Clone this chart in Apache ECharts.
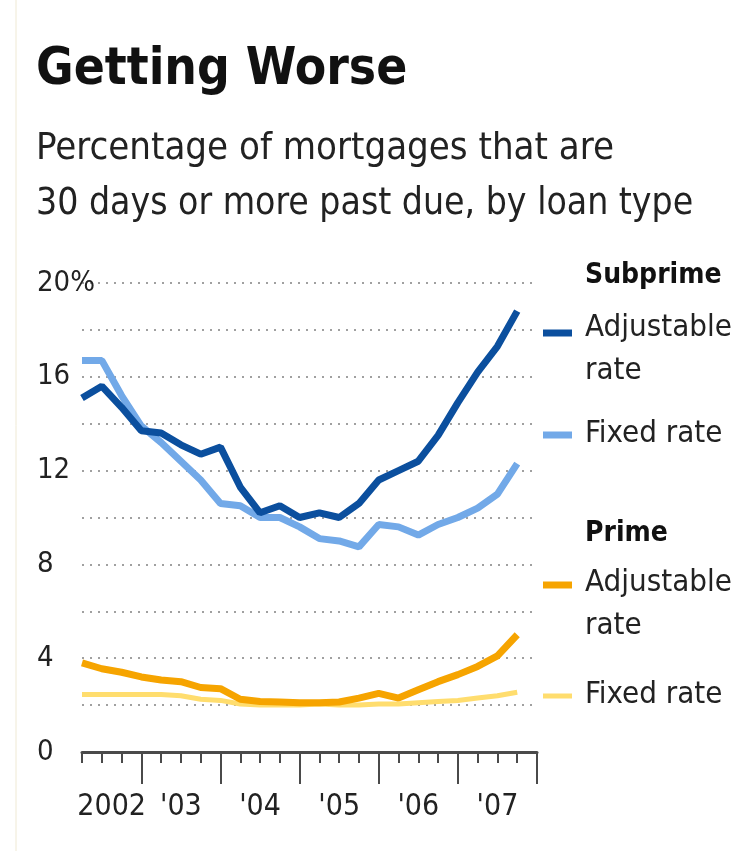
<!DOCTYPE html>
<html>
<head>
<meta charset="utf-8">
<script src="https://cdn.jsdelivr.net/npm/echarts@6/dist/echarts.min.js"></script>
<style>
html,body{margin:0;padding:0;background:#fff;}
#chart{width:750px;height:851px;}
</style>
</head>
<body>
<div id="chart"></div>
<script>
// ---- data ----
const quarters = ['2002Q2','2002Q3','2002Q4',
  '2003Q1','2003Q2','2003Q3','2003Q4',
  '2004Q1','2004Q2','2004Q3','2004Q4',
  '2005Q1','2005Q2','2005Q3','2005Q4',
  '2006Q1','2006Q2','2006Q3','2006Q4',
  '2007Q1','2007Q2','2007Q3','2007Q4'];
const subprimeAdjustable = [15.1, 15.6, 14.7, 13.7, 13.6, 13.1, 12.7, 13.0, 11.3, 10.2, 10.5, 10.0, 10.2, 10.0, 10.6, 11.6, 12.0, 12.4, 13.5, 14.9, 16.2, 17.3, 18.8];
const subprimeFixed      = [16.7, 16.7, 15.2, 13.9, 13.2, 12.4, 11.6, 10.6, 10.5, 10.0, 10.0, 9.6, 9.1, 9.0, 8.75, 9.7, 9.6, 9.25, 9.7, 10.0, 10.4, 11.0, 12.3];
const primeAdjustable    = [3.8, 3.55, 3.4, 3.2, 3.07, 3.0, 2.75, 2.7, 2.25, 2.15, 2.13, 2.1, 2.1, 2.13, 2.3, 2.5, 2.3, 2.65, 3.0, 3.3, 3.65, 4.1, 5.0];
const primeFixed         = [2.45, 2.45, 2.45, 2.45, 2.45, 2.4, 2.25, 2.2, 2.05, 2.0, 2.0, 2.0, 2.05, 2.0, 2.0, 2.05, 2.05, 2.1, 2.15, 2.2, 2.3, 2.4, 2.55];
const years = [2002, 2003, 2004, 2005, 2006, 2007];
const yearLabels = ['2002', "'03", "'04", "'05", "'06", "'07"];
const yLabelValues = [0, 4, 8, 12, 16, 20];
const yLabelTexts = ['0', '4', '8', '12', '16', '20%'];
const titleText = 'Getting Worse';
const subtitleLines = ['Percentage of mortgages that are', '30 days or more past due, by loan type'];

// ---- helpers ----
function qToNum(q){ const y = +q.slice(0,4), n = +q.slice(5); return y + (n-1)/4; }
const xs = quarters.map(qToNum);
const xMin = xs[0], xMax = 2008;
const pairs = arr => arr.map((v,i)=>[xs[i], v]);
const yearCenters = years.map(y => (Math.max(y, xMin) + Math.min(y+1, xMax)) / 2);
const yearBounds = years.map(y => y + 1).filter(y => y > xMin && y <= xMax);

const COND = '"DejaVu Sans Condensed","Liberation Sans Narrow",sans-serif';
const C_DARK = '#0b4f9e', C_LIGHT = '#72a9e8', C_ORANGE = '#f6a400', C_YELLOW = '#ffdd6e';

const chart = echarts.init(document.getElementById('chart'), null, {renderer:'canvas'});

const option = {
  animation: false,
  backgroundColor: '#fff',
  grid: {left: 82, right: 213, top: 283, bottom: 99, containLabel: false},
  xAxis: [{
    type: 'value', min: xMin, max: xMax, interval: 0.25,
    axisLine: {show: true, lineStyle: {color: '#4a4a4a', width: 3}},
    axisTick: {show: true, length: 11, lineStyle: {color: '#4a4a4a', width: 2}},
    axisLabel: {show: false},
    splitLine: {show: false}
  }, {
    type: 'value', min: xMin, max: xMax, position: 'bottom',
    axisLine: {show: false},
    axisTick: {show: true, customValues: yearBounds, length: 32, lineStyle: {color: '#4a4a4a', width: 2}},
    axisLabel: {show: true, customValues: yearCenters, margin: 40,
      formatter: v => { const i = yearCenters.findIndex(c => Math.abs(c - v) < 1e-6); return i >= 0 ? yearLabels[i] : ''; },
      fontFamily: COND, fontSize: 30, color: '#222'},
    splitLine: {show: false}
  }],
  yAxis: {
    type: 'value', min: 0, max: 20, interval: 2,
    axisLine: {show: false}, axisTick: {show: false},
    axisLabel: {show: true, customValues: yLabelValues, align: 'left', margin: 45,
      formatter: v => { const i = yLabelValues.indexOf(v); return i >= 0 ? yLabelTexts[i] : ''; },
      fontFamily: COND, fontSize: 29, color: '#222'},
    splitLine: {show: true, lineStyle: {color: '#a0a0a0', width: 2, type: [2, 6]}}
  },
  series: [
    {name: 'Subprime fixed rate', type: 'line', data: pairs(subprimeFixed), showSymbol: false, smooth: false,
      lineStyle: {color: C_LIGHT, width: 7}, z: 2},
    {name: 'Subprime adjustable rate', type: 'line', data: pairs(subprimeAdjustable), showSymbol: false,
      lineStyle: {color: C_DARK, width: 7}, z: 3},
    {name: 'Prime fixed rate', type: 'line', data: pairs(primeFixed), showSymbol: false,
      lineStyle: {color: C_YELLOW, width: 5}, z: 2},
    {name: 'Prime adjustable rate', type: 'line', data: pairs(primeAdjustable), showSymbol: false,
      lineStyle: {color: C_ORANGE, width: 7}, z: 3}
  ],
  graphic: [
    {type: 'line', shape: {x1: 16, y1: 0, x2: 16, y2: 851}, style: {stroke: '#efe9d4', lineWidth: 1}},
    {type: 'text', style: {text: titleText, x: 36, y: 71, font: 'bold 51px ' + COND, fill: '#111', verticalAlign: 'middle'}},
    {type: 'text', style: {text: subtitleLines[0], x: 36, y: 149, font: '38px ' + COND, fill: '#222', verticalAlign: 'middle'}},
    {type: 'text', style: {text: subtitleLines[1], x: 36, y: 204, font: '37px ' + COND, fill: '#222', verticalAlign: 'middle'}},
    // legend
    {type: 'text', style: {text: 'Subprime', x: 585, y: 276, font: 'bold 28px ' + COND, fill: '#111', verticalAlign: 'middle'}},
    {type: 'line', shape: {x1: 543, y1: 333, x2: 572, y2: 333}, style: {stroke: C_DARK, lineWidth: 7}},
    {type: 'text', style: {text: 'Adjustable', x: 585, y: 328, font: '31px ' + COND, fill: '#222', verticalAlign: 'middle'}},
    {type: 'text', style: {text: 'rate', x: 585, y: 371, font: '31px ' + COND, fill: '#222', verticalAlign: 'middle'}},
    {type: 'line', shape: {x1: 543, y1: 435, x2: 572, y2: 435}, style: {stroke: C_LIGHT, lineWidth: 7}},
    {type: 'text', style: {text: 'Fixed rate', x: 585, y: 434, font: '31px ' + COND, fill: '#222', verticalAlign: 'middle'}},
    {type: 'text', style: {text: 'Prime', x: 585, y: 534, font: 'bold 28px ' + COND, fill: '#111', verticalAlign: 'middle'}},
    {type: 'line', shape: {x1: 543, y1: 585, x2: 572, y2: 585}, style: {stroke: C_ORANGE, lineWidth: 7}},
    {type: 'text', style: {text: 'Adjustable', x: 585, y: 583, font: '31px ' + COND, fill: '#222', verticalAlign: 'middle'}},
    {type: 'text', style: {text: 'rate', x: 585, y: 626, font: '31px ' + COND, fill: '#222', verticalAlign: 'middle'}},
    {type: 'line', shape: {x1: 543, y1: 696, x2: 572, y2: 696}, style: {stroke: C_YELLOW, lineWidth: 5}},
    {type: 'text', style: {text: 'Fixed rate', x: 585, y: 695, font: '31px ' + COND, fill: '#222', verticalAlign: 'middle'}}
  ]
};
chart.setOption(option);
</script>
</body>
</html>
